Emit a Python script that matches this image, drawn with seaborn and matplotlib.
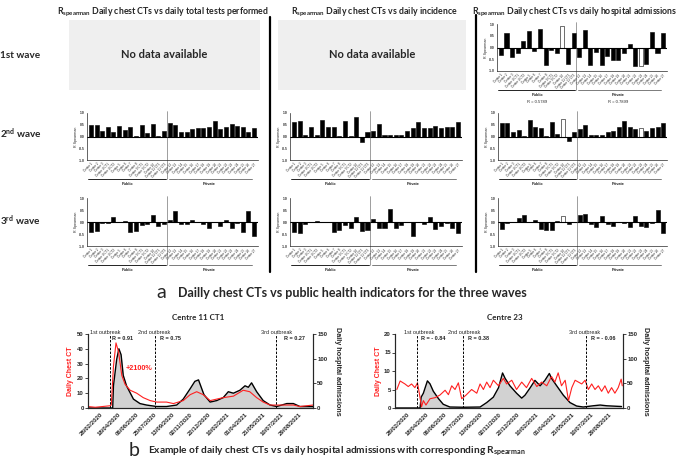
import numpy as np
import pandas as pd
import matplotlib
matplotlib.use("Agg")
import matplotlib.pyplot as plt
import matplotlib.transforms as mtrans
import seaborn as sns

W, H = 677, 463

# centres: 14 public then 16 private
centres = ["Centre 1", "Centre 2", "Centre 3", "Centre 4 CT1", "Centre 4 CT2", "Centre 5",
           "Centre 6", "Centre 7", "Centre 8", "Centre 9 CT1", "Centre 9 CT2", "Centre 10",
           "Centre 11 CT1", "Centre 11 CT2",
           "Centre 12", "Centre 13", "Centre 14", "Centre 15", "Centre 16", "Centre 17",
           "Centre 18", "Centre 19", "Centre 20", "Centre 21", "Centre 22", "Centre 23",
           "Centre 24", "Centre 25", "Centre 26", "Centre 27"]
n_public = 14

# R spearman per centre
tests_w2 = [0.49, 0.51, 0.23, 0.40, 0.21, 0.46, 0.26, 0.40, 0.03, 0.47, 0.16, 0.53, 0.01, 0.24,
            0.57, 0.51, 0.19, 0.19, 0.31, 0.37, 0.36, 0.40, 0.64, 0.34, 0.40, 0.53, 0.46, 0.40, 0.20, 0.37]
tests_w3 = [-0.42, -0.37, -0.03, -0.05, 0.22, 0.00, 0.03, -0.42, -0.37, -0.12, -0.10, 0.28, -0.18, -0.08,
            0.07, 0.45, -0.08, -0.10, 0.07, 0.00, -0.10, -0.25, 0.00, -0.15, 0.07, -0.27, -0.03, -0.40, 0.45, -0.58]
incid_w2 = [0.63, 0.64, 0.07, 0.42, 0.06, 0.69, 0.41, 0.42, 0.03, 0.66, 0.04, 0.84, -0.24, 0.20,
            0.22, 0.53, 0.05, 0.05, 0.07, 0.07, 0.23, 0.35, 0.63, 0.38, 0.35, 0.45, 0.37, 0.40, 0.40, 0.62]
incid_w3 = [-0.42, -0.47, -0.10, -0.02, 0.05, 0.02, 0.00, -0.42, -0.35, -0.12, -0.27, 0.20, -0.38, -0.33,
            0.13, -0.27, -0.25, 0.55, -0.25, -0.12, 0.02, -0.60, 0.02, -0.10, 0.20, -0.30, -0.15, -0.05, -0.25, -0.45]
hosp_w1 = [-0.32, 0.62, -0.40, -0.25, 0.27, 0.72, -0.15, 0.80, -0.75, -0.10, -0.25, 0.90, -0.70, 0.62,
           -0.40, 0.75, -0.75, -0.20, -0.75, -0.35, -0.55, -0.55, -0.25, 0.15, -0.80, -0.80, -0.70, 0.65, -0.25, 0.60]
hosp_w2 = [0.57, 0.58, 0.18, 0.26, 0.03, 0.70, 0.40, 0.38, 0.03, 0.63, 0.10, 0.75, -0.20, 0.20,
           0.33, 0.50, 0.05, 0.07, 0.05, 0.20, 0.25, 0.42, 0.65, 0.40, 0.30, 0.38, 0.25, 0.35, 0.40, 0.57]
hosp_w3 = [-0.30, -0.05, 0.00, 0.15, 0.30, 0.00, 0.10, -0.30, -0.35, -0.32, 0.03, 0.25, -0.10, 0.02,
           0.30, 0.35, -0.10, -0.20, 0.25, -0.10, -0.15, 0.02, -0.05, -0.20, 0.25, -0.15, -0.20, -0.05, 0.50, -0.45]
hosp_w1_r = ["R = 0.5789", "R = 0.7899"]

# time series, days since 2020-01-25
start = pd.Timestamp("2020-01-25")
end_day = 619
outbreak_days = [60, 184, 518]
date_ticks = ["28/02/2020", "18/04/2020", "06/06/2020", "25/07/2020", "13/09/2020", "02/11/2020",
              "22/12/2020", "10/02/2021", "01/04/2021", "21/05/2021", "10/07/2021", "29/08/2021"]

c11_adm_days = [0, 68, 70, 79, 85, 91, 97, 106, 125, 143, 161, 189, 216, 244, 262, 281, 294, 304, 310, 319,
                336, 354, 372, 386, 400, 418, 432, 441, 450, 464, 482, 501, 519, 547, 565, 583, 619]
c11_adm = [0, 0, 45, 99, 120, 108, 66, 45, 18, 9, 6, 3, 3, 6, 18, 39, 54, 57, 45, 27,
           12, 15, 21, 33, 30, 36, 45, 42, 51, 33, 15, 6, 3, 9, 9, 3, 3]
c11_ct_days = [0, 20, 40, 60, 64, 70, 77, 84, 93, 102, 116, 134, 152, 171, 189, 216, 235, 262, 281, 299,
               317, 336, 354, 372, 400, 427, 445, 464, 482, 501, 519, 547, 565, 583, 619]
c11_ct = [1, 0.5, 1, 1.5, 2, 28, 44, 38, 22, 16, 12, 10, 7, 5, 4, 4, 3, 5, 9, 11,
          9, 5, 6, 7, 8, 12, 11, 7, 4, 2, 2, 2, 2, 1, 2]

c23_adm_days = [0, 68, 71, 77, 88, 95, 104, 118, 131, 149, 186, 231, 249, 267, 281, 292, 299, 312, 330, 344,
                353, 367, 380, 394, 407, 419, 425, 439, 457, 475, 493, 511, 538, 557, 575, 615]
c23_adm = [0, 0, 22, 30, 55, 49, 34, 19, 7.5, 2, 1.5, 2, 11, 22, 41, 71, 60, 45, 30, 20,
           26, 41, 56, 45, 56, 70, 60, 45, 26, 11, 4, 2, 4.5, 6, 4.5, 3]
c23_ct_days = [5, 14, 27, 36, 45, 54, 61, 66, 72, 77, 84, 95, 109, 122, 136, 145, 154, 163, 172, 181,
               193, 208, 222, 231, 240, 249, 258, 267, 281, 294, 303, 317, 330, 344, 357, 371, 385, 398, 412, 425,
               434, 443, 452, 462, 471, 480, 489, 498, 507, 516, 525, 534, 543, 552, 561, 570, 579, 588, 597, 606,
               614, 617]
c23_ct = [5, 7.3, 6.5, 5.8, 6.5, 5.5, 6.8, 4, 0.3, 2, 0.8, 2.5, 2.8, 3.5, 4.8, 3.6, 6, 5, 6.8, 2.5,
          3.5, 5, 4, 6.5, 5, 7, 5.5, 7.5, 6, 8, 6.5, 7.5, 5, 7, 5.5, 8, 5.8, 7, 6, 8.5,
          7, 9.5, 6, 7.5, 2, 5.5, 7.5, 7, 6.5, 7.5, 5, 6.5, 5, 6, 4.5, 6, 4, 5.5, 4, 5.5,
          7.8, 6]

sns.set_style("white")
plt.rcParams["font.family"] = ["Lato", "DejaVu Sans"]
plt.rcParams["mathtext.default"] = "regular"
ARIAL = ["Liberation Sans", "DejaVu Sans"]

fig = plt.figure(figsize=(W / 100, H / 100), dpi=100)


def px_box(x0, y0, x1, y1):
    return [x0 / W, 1 - y1 / H, (x1 - x0) / W, (y1 - y0) / H]


def ftext(x, y, s, **kw):
    kw.setdefault("ha", "center")
    kw.setdefault("va", "center")
    fig.text(x / W, 1 - y / H, s, **kw)


def bar_panel(x0, y0, x1, y1, vals, opens=(), r_texts=None):
    ax = fig.add_axes(px_box(x0, y0, x1, y1))
    df = pd.DataFrame({"centre": centres, "r": vals})
    sns.barplot(data=df, x="centre", y="r", color="black", saturation=1, width=0.72,
                edgecolor="black", linewidth=0.4, ax=ax)
    for i in opens:
        ax.patches[i].set_facecolor("white")
    ax.set_xlim(-0.7, len(centres) - 0.3)
    ax.set_ylim(-1, 1)
    ax.set_yticks([-1, -0.5, 0, 0.5, 1])
    ax.set_yticklabels(["-1.0", "-0.5", "0.0", "0.5", "1.0"], fontsize=2.4, family=ARIAL, fontweight="bold")
    ax.set_xticks(range(len(centres)))
    ax.set_xticklabels(centres, rotation=45, ha="right", rotation_mode="anchor", fontsize=2.2, family=ARIAL)
    ax.tick_params(length=1, width=0.4, pad=0.6)
    ax.set_xlabel("")
    ax.set_ylabel("R Spearman", fontsize=2.6, family=ARIAL, labelpad=1)
    sns.despine(ax=ax)
    for s in ["left", "bottom"]:
        ax.spines[s].set_linewidth(0.5)
    ax.axhline(0, color="black", lw=0.8)
    tr = mtrans.blended_transform_factory(ax.transData, ax.transAxes)
    hpx = y1 - y0
    ly = -19 / hpx
    ax.plot([n_public - 0.5, n_public - 0.5], [1.05, ly], color="#555555", lw=0.4,
            transform=tr, clip_on=False)
    ax.plot([-0.6, n_public - 0.7], [ly, ly], color="black", lw=0.6, transform=tr, clip_on=False)
    ax.plot([n_public - 0.2, len(centres) - 1.4], [ly, ly], color="#666666", lw=0.6,
            transform=tr, clip_on=False)
    ax.text((n_public - 1) / 2, ly - 5 / hpx, "Public", transform=tr, ha="center", va="center",
            fontsize=2.8, family=ARIAL, fontweight="bold")
    ax.text((n_public + len(centres) - 2) / 2, ly - 5 / hpx, "Private", transform=tr, ha="center",
            va="center", fontsize=2.8, family=ARIAL, fontweight="bold")
    if r_texts:
        ax.text((n_public - 1) / 2, ly - 12 / hpx, r_texts[0], transform=tr, ha="center", va="center",
                fontsize=3, family=ARIAL)
        ax.text((n_public + len(centres) - 2) / 2, ly - 12 / hpx, r_texts[1], transform=tr, ha="center",
                va="center", fontsize=3, family=ARIAL)
    return ax


def ts_panel(x0, y0, x1, y1, ct_days, ct, adm_days, adm, ct_max, ct_step):
    ax = fig.add_axes(px_box(x0, y0, x1, y1))
    ax2 = ax.twinx()
    ad = start + pd.to_timedelta(adm_days, unit="D")
    cd = start + pd.to_timedelta(ct_days, unit="D")
    ax2.fill_between(ad, adm, color="#d2d2d2", lw=0)
    sns.lineplot(x=ad, y=adm, color="black", lw=1.0, ax=ax2)
    sns.lineplot(x=cd, y=ct, color="#ff2020", lw=0.8, ax=ax)
    ax.set_zorder(ax2.get_zorder() + 1)
    ax.patch.set_visible(False)
    ax.set_xlim(start, start + pd.Timedelta(days=end_day))
    ax.set_ylim(0, ct_max)
    ax2.set_ylim(0, 150)
    ax.set_yticks(np.arange(0, ct_max + 0.1, ct_step))
    ax2.set_yticks([0, 50, 100, 150])
    ticks = pd.to_datetime(date_ticks, format="%d/%m/%Y")
    ax.set_xticks(ticks)
    ax.set_xticklabels(date_ticks, rotation=45, ha="right", rotation_mode="anchor", fontsize=3.3,
                       family=ARIAL, fontweight="bold")
    for a in (ax, ax2):
        a.set_xlabel("")
        a.set_ylabel("")
        a.tick_params(length=2, width=0.6, pad=1, labelsize=4.3)
        for lab in a.get_yticklabels():
            lab.set_family(ARIAL)
            lab.set_fontweight("bold")
        for s in a.spines.values():
            s.set_linewidth(0.8)
        a.spines["top"].set_visible(False)
    for d in outbreak_days:
        ax.axvline(start + pd.Timedelta(days=d), color="black", ls=(0, (2.5, 1.5)), lw=0.7)
    return ax


# top titles
ftext(163, 12, r"R$_{spearman}$ Daily chest CTs vs daily total tests performed", fontsize=6.3, fontweight="bold")
ftext(374, 12, r"R$_{spearman}$ Daily chest CTs vs daily incidence", fontsize=6.3, fontweight="bold")
ftext(575, 12, r"R$_{spearman}$ Daily chest CTs vs daily hospital admissions", fontsize=6.3, fontweight="bold")

# wave labels
ftext(0, 55, "1st wave", ha="left", fontsize=7.2, fontweight="bold")
ftext(0, 134, r"2$^{nd}$ wave", ha="left", fontsize=7.2, fontweight="bold")
ftext(0, 221, r"3$^{rd}$ wave", ha="left", fontsize=7.2, fontweight="bold")

# panel dividers
fig.add_artist(plt.Line2D([270 / W, 270 / W], [1 - 17 / H, 1 - 272 / H], color="black", lw=1.6))
fig.add_artist(plt.Line2D([476 / W, 476 / W], [1 - 15 / H, 1 - 272 / H], color="black", lw=1.6))

# no data boxes
for bx0, bx1 in [(69, 260), (278, 466)]:
    fig.add_artist(plt.Rectangle((bx0 / W, 1 - 90 / H), (bx1 - bx0) / W, 70 / H, color="#efefef", lw=0))
    ftext((bx0 + bx1) / 2, 55, "No data available", fontsize=8, fontweight="bold")

# bar panels
bar_panel(497, 24, 667, 71, hosp_w1, opens=(11, 25), r_texts=hosp_w1_r)
bar_panel(87, 113, 258, 160, tests_w2)
bar_panel(290, 113, 462, 160, incid_w2)
bar_panel(498, 113, 667, 160, hosp_w2, opens=(11, 25))
bar_panel(87, 198, 258, 246, tests_w3)
bar_panel(290, 198, 462, 246, incid_w3)
bar_panel(498, 198, 667, 246, hosp_w3, opens=(11,))

# section a
ftext(161, 293, "a", fontsize=14)
ftext(178, 293, "Dailly chest CTs vs public health indicators for the three waves", ha="left",
      fontsize=9.0, fontweight="bold")

# time series panels
ftext(198, 318, "Centre 11 CT1", fontsize=5.8, fontweight="bold")
ftext(505, 318, "Centre 23", fontsize=5.8, fontweight="bold")
ts_panel(88, 334, 313, 408, c11_ct_days, c11_ct, c11_adm_days, c11_adm, 50, 10)
ts_panel(395, 334, 623, 408, c23_ct_days, c23_ct, c23_adm_days, c23_adm, 20, 5)

ftext(71, 371, "Daily Chest CT", rotation=90, fontsize=5, color="#ff2020", family=ARIAL, fontweight="bold")
ftext(337, 371, "Daily hospital admissions", rotation=270, fontsize=5.2, family=ARIAL, fontweight="bold")
ftext(379, 371, "Daily Chest CT", rotation=90, fontsize=5, color="#ff2020", family=ARIAL, fontweight="bold")
ftext(645, 371, "Daily hospital admissions", rotation=270, fontsize=5.2, family=ARIAL, fontweight="bold")

ann = [(105, "1st outbreak"), (154, "2nd outbreak"), (277, "3rd outbreak"),
       (419, "1st outbreak"), (464, "2nd outbreak"), (585, "3rd outbreak")]
for x, s in ann:
    ftext(x, 332, s, fontsize=4, family=ARIAL)
rtx = [(123, "R = 0.91"), (171, "R = 0.75"), (294, "R = 0.27"),
       (433, "R = - 0.84"), (478, "R = 0.38"), (603, "R = - 0.06")]
for x, s in rtx:
    ftext(x, 339, s, fontsize=4, family=ARIAL, fontweight="bold")
ftext(139, 368, "+2100%", fontsize=5.2, color="#ff2020", family=ARIAL, fontweight="bold")

# section b
ftext(134, 451, "b", fontsize=14)
ftext(148, 451, r"Example of daily chest CTs vs daily hospital admissions with corresponding R$_{spearman}$",
      ha="left", fontsize=7.3, fontweight="bold")

fig.savefig("out.png", dpi=100)
